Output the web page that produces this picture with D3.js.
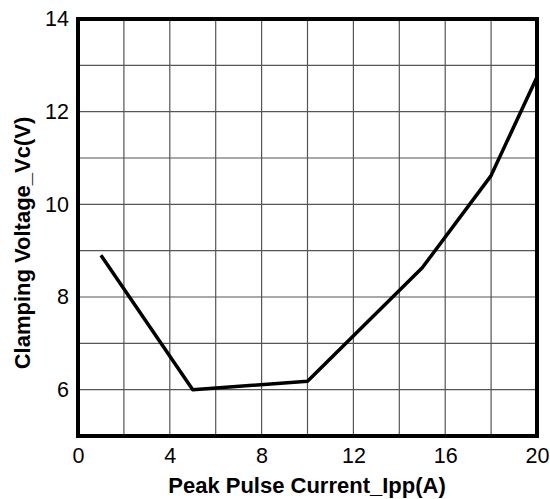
<!DOCTYPE html>
<html><head><meta charset="utf-8">
<script src="https://cdn.jsdelivr.net/npm/d3@7"></script>
<style>html,body{margin:0;padding:0;background:#fff;}</style>
</head><body>
<script>
const currentA = [1, 5, 10, 15, 18, 20];
const voltageV = [8.9, 6.0, 6.18, 8.63, 10.62, 12.75];
const xTicks = [0, 4, 8, 12, 16, 20];
const yTicks = [6, 8, 10, 12, 14];
const xGrid = d3.range(0, 21, 2);
const yGrid = d3.range(5, 15, 1);

const W = 550, H = 499;
const m = {left: 78, right: 13, top: 19, bottom: 63};
const FONT = "Arial, 'Liberation Sans', sans-serif";
const svg = d3.select("body").append("svg").attr("width", W).attr("height", H);
const x = d3.scaleLinear().domain([0, 20]).range([m.left, W - m.right]);
const y = d3.scaleLinear().domain([5, 14]).range([H - m.bottom, m.top]);

const g = svg.append("g");
g.selectAll(".vg").data(xGrid).enter().append("line")
  .attr("x1", d => x(d)).attr("x2", d => x(d))
  .attr("y1", y(5)).attr("y2", y(14))
  .attr("stroke", "#555").attr("stroke-width", 1.2);
g.selectAll(".hg").data(yGrid).enter().append("line")
  .attr("x1", x(0)).attr("x2", x(20))
  .attr("y1", d => y(d)).attr("y2", d => y(d))
  .attr("stroke", "#555").attr("stroke-width", 1.2);

svg.append("rect").attr("x", x(0)).attr("y", y(14))
  .attr("width", x(20) - x(0)).attr("height", y(5) - y(14))
  .attr("fill", "none").attr("stroke", "#000").attr("stroke-width", 4);

const xAxis = svg.append("g").attr("transform", `translate(0,${y(5)})`)
  .call(d3.axisBottom(x).tickValues(xTicks).tickSize(0).tickPadding(12).tickFormat(d3.format("d")));
const yAxis = svg.append("g").attr("transform", `translate(${x(0)},0)`)
  .call(d3.axisLeft(y).tickValues(yTicks).tickSize(0).tickPadding(9).tickFormat(d3.format("d")));
[xAxis, yAxis].forEach(a => {
  a.select(".domain").remove();
  a.selectAll("text").attr("font-family", FONT)
    .attr("font-size", 21.5).attr("fill", "#000");
});

const line = d3.line().x((d, i) => x(currentA[i])).y(d => y(d));
svg.append("path").datum(voltageV).attr("d", line)
  .attr("fill", "none").attr("stroke", "#000").attr("stroke-width", 3.5)
  .attr("stroke-linejoin", "round");

svg.append("text").attr("x", 307).attr("y", 493)
  .attr("text-anchor", "middle").attr("font-family", FONT)
  .attr("font-weight", "bold").attr("font-size", 22).text("Peak Pulse Current_Ipp(A)");
svg.append("text").attr("transform", `translate(30,243) rotate(-90)`)
  .attr("text-anchor", "middle").attr("font-family", FONT)
  .attr("font-weight", "bold").attr("font-size", 22).text("Clamping Voltage_Vc(V)");
</script>
</body></html>
